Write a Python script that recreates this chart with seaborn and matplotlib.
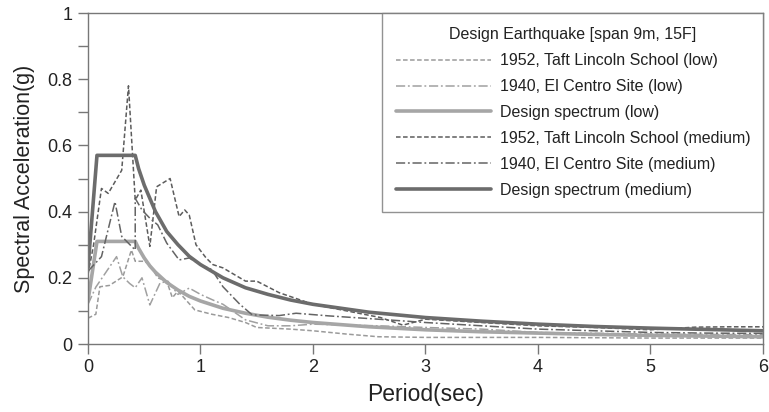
import matplotlib
matplotlib.use('Agg')
import matplotlib.pyplot as plt
import seaborn as sns
from matplotlib.ticker import MultipleLocator, FuncFormatter

# periods (sec) and spectral accelerations (g)
design_med_t = [0, 0.08, 0.42, 0.45, 0.5, 0.55, 0.6, 0.7, 0.8, 0.9, 1.0, 1.2, 1.4, 1.6,
                1.8, 2.0, 2.5, 3.0, 3.5, 4.0, 4.5, 5.0, 5.5, 6.0]
design_med_a = [0.23, 0.57, 0.57, 0.53, 0.48, 0.44, 0.40, 0.34, 0.30, 0.265, 0.24, 0.20, 0.17,
                0.15, 0.133, 0.12, 0.096, 0.08, 0.069, 0.06, 0.053, 0.048, 0.044, 0.04]

design_low_t = [0, 0.08, 0.42, 0.45, 0.5, 0.55, 0.6, 0.7, 0.8, 0.9, 1.0, 1.2, 1.4, 1.6,
                1.8, 2.0, 2.5, 3.0, 3.5, 4.0, 4.5, 5.0, 5.5, 6.0]
design_low_a = [0.13, 0.31, 0.31, 0.289, 0.26, 0.236, 0.217, 0.186, 0.163, 0.144, 0.13, 0.108,
                0.093, 0.081, 0.072, 0.065, 0.052, 0.043, 0.037, 0.033, 0.029, 0.026, 0.024, 0.022]

taft_med_t = [0, 0.05, 0.12, 0.18, 0.3, 0.36, 0.42, 0.47, 0.55, 0.61, 0.73, 0.81, 0.86, 0.9,
              0.96, 1.05, 1.11, 1.2, 1.3, 1.4, 1.5, 1.7, 2.0, 2.3, 2.6, 2.8, 3.0, 3.5, 4.0,
              4.5, 5.0, 5.4, 5.7, 6.0]
taft_med_a = [0.21, 0.30, 0.47, 0.455, 0.525, 0.78, 0.435, 0.465, 0.295, 0.475, 0.50, 0.385,
              0.405, 0.39, 0.30, 0.26, 0.24, 0.23, 0.21, 0.19, 0.19, 0.155, 0.12, 0.10, 0.08,
              0.057, 0.075, 0.065, 0.055, 0.05, 0.043, 0.051, 0.052, 0.052]

elc_med_t = [0, 0.12, 0.24, 0.30, 0.42, 0.42, 0.48, 0.55, 0.62, 0.70, 0.81, 0.9, 1.0, 1.1,
             1.2, 1.35, 1.46, 1.7, 1.85, 2.14, 2.58, 3.0, 3.5, 4.0, 4.5, 5.0, 5.5, 6.0]
elc_med_a = [0.22, 0.264, 0.43, 0.325, 0.284, 0.44, 0.405, 0.38, 0.36, 0.305, 0.254, 0.26,
             0.24, 0.225, 0.173, 0.12, 0.088, 0.086, 0.093, 0.085, 0.075, 0.065, 0.055, 0.045,
             0.04, 0.035, 0.033, 0.032]

taft_low_t = [0, 0.07, 0.106, 0.19, 0.31, 0.386, 0.42, 0.5, 0.55, 0.62, 0.7, 0.75, 0.8, 0.95,
              1.1, 1.25, 1.4, 1.5, 1.8, 2.0, 2.3, 2.58, 3.0, 4.0, 5.0, 6.0]
taft_low_a = [0.078, 0.09, 0.173, 0.177, 0.203, 0.284, 0.25, 0.25, 0.24, 0.20, 0.19, 0.14,
              0.16, 0.103, 0.09, 0.08, 0.065, 0.05, 0.045, 0.04, 0.03, 0.022, 0.02, 0.02,
              0.018, 0.018]

elc_low_t = [0, 0.07, 0.254, 0.31, 0.37, 0.42, 0.48, 0.55, 0.64, 0.71, 0.8, 0.9, 1.0, 1.11,
             1.2, 1.4, 1.6, 1.8, 2.0, 2.58, 3.0, 3.5, 4.0, 5.0, 6.0]
elc_low_a = [0.12, 0.172, 0.264, 0.203, 0.183, 0.17, 0.20, 0.118, 0.184, 0.19, 0.15, 0.169,
             0.15, 0.133, 0.12, 0.073, 0.055, 0.055, 0.06, 0.055, 0.05, 0.045, 0.035, 0.03,
             0.028]

sns.set_style('ticks')
plt.rcParams['font.family'] = ['Liberation Sans', 'DejaVu Sans']

fig = plt.figure(figsize=(7.69, 4.12), dpi=100)
ax = fig.add_axes([0.1144, 0.165, 0.8778, 0.8034])

dash = (3, 1.6)
dashdot = (6, 1.8, 1.2, 1.8)

sns.lineplot(x=taft_low_t, y=taft_low_a, ax=ax, color='#9a9a9a', lw=1.1, sort=False,
             estimator=None, label='1952, Taft Lincoln School (low)').lines[-1].set_dashes(dash)
sns.lineplot(x=elc_low_t, y=elc_low_a, ax=ax, color='#a0a0a0', lw=1.1, sort=False,
             estimator=None, label='1940, El Centro Site (low)').lines[-1].set_dashes(dashdot)
sns.lineplot(x=design_low_t, y=design_low_a, ax=ax, color='#a6a6a6', lw=2.6, sort=False,
             estimator=None, label='Design spectrum (low)')
sns.lineplot(x=taft_med_t, y=taft_med_a, ax=ax, color='#5c5c5c', lw=1.1, sort=False,
             estimator=None, label='1952, Taft Lincoln School (medium)').lines[-1].set_dashes(dash)
sns.lineplot(x=elc_med_t, y=elc_med_a, ax=ax, color='#646464', lw=1.1, sort=False,
             estimator=None, label='1940, El Centro Site (medium)').lines[-1].set_dashes(dashdot)
sns.lineplot(x=design_med_t, y=design_med_a, ax=ax, color='#6c6c6c', lw=2.6, sort=False,
             estimator=None, label='Design spectrum (medium)')

ax.set_xlim(0, 6)
ax.set_ylim(0, 1)
ax.xaxis.set_major_locator(MultipleLocator(1))
ax.yaxis.set_major_locator(MultipleLocator(0.2))
ax.yaxis.set_minor_locator(MultipleLocator(0.1))
ax.yaxis.set_major_formatter(FuncFormatter(lambda v, p: f'{v:g}'))
ax.tick_params(axis='both', which='both', direction='out', length=7, width=1,
               color='#777777', labelsize=13, labelcolor='#222222', pad=4)
for s in ax.spines.values():
    s.set_color('#777777')
    s.set_linewidth(1.0)

ax.set_xlabel('Period(sec)', fontsize=16.5, color='#222222', labelpad=5)
ax.set_ylabel('Spectral Acceleration(g)', fontsize=15.5, color='#222222', labelpad=9)

leg = ax.legend(title='Design Earthquake [span 9m, 15F]', loc='upper left',
                bbox_to_anchor=(0.4356, 1.0, 0.5644, 0.0), mode='expand', borderaxespad=0,
                fontsize=11.5, title_fontsize=11.5, handlelength=5.9, handletextpad=0.6,
                labelspacing=0.68, frameon=True, fancybox=False, borderpad=0.9)
leg.get_frame().set_edgecolor('#777777')
leg.get_frame().set_linewidth(1.0)
for t in leg.get_texts():
    t.set_color('#222222')
leg.get_title().set_color('#222222')

fig.savefig('out.png', dpi=100)
